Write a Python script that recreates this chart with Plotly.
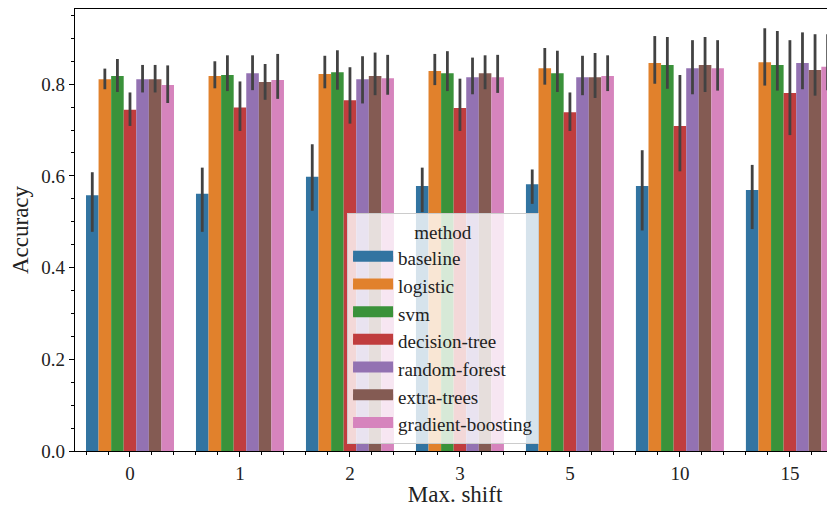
import plotly.graph_objects as go

shifts = ["0", "1", "2", "3", "5", "10", "15"]
methods = ["baseline", "logistic", "svm", "decision-tree", "random-forest", "extra-trees", "gradient-boosting"]
colors = ["#3274a1", "#e1812c", "#3a923a", "#c03d3e", "#9372b2", "#845b53", "#d684bd"]

# mean accuracy per method across shifts
acc = {
    "baseline":          [0.558, 0.561, 0.598, 0.578, 0.582, 0.578, 0.569],
    "logistic":          [0.811, 0.818, 0.822, 0.829, 0.835, 0.846, 0.848],
    "svm":               [0.818, 0.820, 0.826, 0.824, 0.824, 0.842, 0.842],
    "decision-tree":     [0.744, 0.749, 0.765, 0.748, 0.739, 0.709, 0.781],
    "random-forest":     [0.811, 0.824, 0.811, 0.815, 0.815, 0.835, 0.846],
    "extra-trees":       [0.811, 0.805, 0.818, 0.824, 0.815, 0.842, 0.831],
    "gradient-boosting": [0.798, 0.809, 0.813, 0.815, 0.818, 0.835, 0.838],
}
ci_hi = {
    "baseline":          [0.608, 0.618, 0.669, 0.618, 0.614, 0.656, 0.624],
    "logistic":          [0.834, 0.850, 0.862, 0.866, 0.879, 0.905, 0.922],
    "svm":               [0.855, 0.863, 0.874, 0.872, 0.873, 0.903, 0.916],
    "decision-tree":     [0.782, 0.806, 0.837, 0.812, 0.782, 0.820, 0.896],
    "random-forest":     [0.842, 0.863, 0.861, 0.858, 0.862, 0.896, 0.913],
    "extra-trees":       [0.842, 0.844, 0.869, 0.863, 0.868, 0.903, 0.909],
    "gradient-boosting": [0.841, 0.866, 0.864, 0.864, 0.863, 0.896, 0.909],
}
ci_lo = {
    "baseline":          [0.478, 0.478, 0.524, 0.521, 0.539, 0.481, 0.484],
    "logistic":          [0.789, 0.791, 0.791, 0.798, 0.799, 0.801, 0.797],
    "svm":               [0.783, 0.785, 0.788, 0.785, 0.783, 0.790, 0.786],
    "decision-tree":     [0.709, 0.698, 0.714, 0.698, 0.698, 0.610, 0.689],
    "random-forest":     [0.782, 0.787, 0.758, 0.778, 0.776, 0.778, 0.789],
    "extra-trees":       [0.782, 0.766, 0.776, 0.789, 0.770, 0.783, 0.775],
    "gradient-boosting": [0.759, 0.768, 0.777, 0.781, 0.785, 0.786, 0.787],
}
yticks = [0.0, 0.2, 0.4, 0.6, 0.8]

FONT = "Liberation Serif"
positions = list(range(len(shifts)))

fig = go.Figure()
for m, c in zip(methods, colors):
    y = acc[m]
    fig.add_trace(go.Bar(
        x=positions, y=y, name=m, marker=dict(color=c, line=dict(width=0)),
        showlegend=False,
        error_y=dict(type="data", symmetric=False,
                     array=[h - v for h, v in zip(ci_hi[m], y)],
                     arrayminus=[v - l for v, l in zip(y, ci_lo[m])],
                     color="#424242", thickness=2.8, width=0),
    ))
    # legend patch entry
    fig.add_trace(go.Scatter(x=[None], y=[None], mode="lines", name=m, fill="toself",
                             fillcolor=c, line=dict(color=c, width=10), showlegend=True))

# page has an 8px body margin, so the figure is sized to the visible area
fig.update_layout(
    width=827, height=499,
    margin=dict(l=67, r=0, t=1, b=56),
    paper_bgcolor="white", plot_bgcolor="white",
    barmode="group", bargap=0.2, bargroupgap=0,
    font=dict(family=FONT, size=19, color="#222222"),
    showlegend=True,
    legend=dict(
        title=dict(text="method", side="top center", font=dict(size=19)),
        x=0.358, y=0.538, xanchor="left", yanchor="top",
        bgcolor="rgba(255,255,255,0.8)", bordercolor="#cccccc", borderwidth=1,
        font=dict(size=19), tracegroupgap=0, itemwidth=40,
        entrywidth=165, entrywidthmode="pixels",
    ),
)
fig.update_xaxes(
    range=[-0.5, 6.41], tickmode="array", tickvals=positions, ticktext=shifts,
    showline=True, linecolor="black", linewidth=1.2, mirror=True,
    ticks="outside", ticklen=5, tickwidth=1, tickcolor="black",
    minor=dict(tickmode="linear", tick0=0, dtick=0.2, ticks="outside", ticklen=3, tickcolor="black"),
    showgrid=False, zeroline=False, automargin=False,
    title=dict(text="Max. shift", font=dict(size=23), standoff=2),
    tickfont=dict(size=19),
)
fig.update_yaxes(
    range=[0, 0.964], tickmode="array", tickvals=yticks, ticktext=[f"{v:.1f}" for v in yticks],
    showline=True, linecolor="black", linewidth=1.2,
    ticks="outside", ticklen=5, tickwidth=1, tickcolor="black",
    minor=dict(tickmode="linear", tick0=0, dtick=0.05, ticks="outside", ticklen=3, tickcolor="black"),
    showgrid=False, zeroline=False, automargin=False,
    title=dict(text="Accuracy", font=dict(size=23), standoff=6),
    tickfont=dict(size=19),
)
fig.write_html("out.html")
